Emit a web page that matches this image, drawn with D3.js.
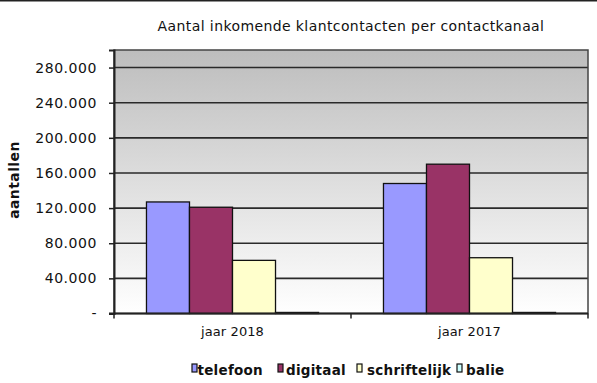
<!DOCTYPE html>
<html><head><meta charset="utf-8">
<script src="https://cdn.jsdelivr.net/npm/d3@7"></script>
<style>body{margin:0;background:#fff}svg{display:block}text{font-family:"DejaVu Sans",Verdana,sans-serif}</style>
</head><body><svg id="c" width="597" height="383"></svg>
<script>
const categories = ["jaar 2018", "jaar 2017"];
const seriesNames = ["telefoon", "digitaal", "schriftelijk", "balie"];
const seriesColors = ["#9999FF", "#993366", "#FFFFCC", "#CCFFFF"];
const telefoon = [127000, 148000];
const digitaal = [121000, 170000];
const schriftelijk = [60500, 63500];
const balie = [1200, 1200];
const yTicks = [0, 40000, 80000, 120000, 160000, 200000, 240000, 280000];
const yMax = 300000;

const values = [telefoon, digitaal, schriftelijk, balie];
const svg = d3.select("#c");
const m = {l:114, r:588, t:50, b:313.5};

// top frame line
svg.append("line").attr("x1",0).attr("x2",597).attr("y1",0.5).attr("y2",0.5).attr("stroke","#222").attr("stroke-width",2);

const defs = svg.append("defs");
const g = defs.append("linearGradient").attr("id","bg").attr("x1",0).attr("x2",0).attr("y1",0).attr("y2",1);
g.append("stop").attr("offset","0%").attr("stop-color","#bdbdbd");
g.append("stop").attr("offset","100%").attr("stop-color","#ffffff");

const x0 = d3.scaleBand().domain(categories).range([m.l, m.r]);
const x1 = d3.scaleBand().domain(seriesNames).range([0, x0.bandwidth()]).paddingOuter(0.755);
const y = d3.scaleLinear().domain([0, yMax]).range([m.b, m.t]);

svg.append("rect").attr("x",m.l).attr("y",m.t).attr("width",m.r-m.l).attr("height",m.b-m.t).attr("fill","url(#bg)");

// gridlines
svg.append("g").selectAll("line").data(yTicks.filter(d=>d>0)).join("line")
  .attr("x1",m.l).attr("x2",m.r).attr("y1",d=>y(d)).attr("y2",d=>y(d))
  .attr("stroke","#2a2a2a").attr("stroke-width",1.6);

// plot border
svg.append("rect").attr("x",m.l).attr("y",m.t).attr("width",m.r-m.l).attr("height",m.b-m.t)
  .attr("fill","none").attr("stroke","#444").attr("stroke-width",1.5);

// bars
const grp = svg.append("g").selectAll("g").data(categories).join("g")
  .attr("transform",d=>`translate(${x0(d)},0)`);
grp.selectAll("rect").data((c,ci)=>seriesNames.map((s,si)=>({s,si,v:values[si][ci]}))).join("rect")
  .attr("x",d=>x1(d.s)).attr("width",x1.bandwidth())
  .attr("y",d=>y(d.v)).attr("height",d=>y(0)-y(d.v))
  .attr("fill",d=>seriesColors[d.si]).attr("stroke","#111").attr("stroke-width",1.3);

// y axis
const yAxis = d3.axisLeft(y).tickValues(yTicks).tickSize(5).tickPadding(11)
  .tickFormat(d=> d===0 ? "-" : d3.format(",")(d).replace(/,/g,"."));
const ya = svg.append("g").attr("transform",`translate(${m.l},0)`).call(yAxis);
ya.select(".domain").attr("stroke","#222").attr("stroke-width",2);
ya.selectAll(".tick line").attr("stroke","#222").attr("stroke-width",1.5);
ya.selectAll(".tick text").attr("font-size",14).attr("letter-spacing","0.55px").attr("fill","#111").attr("dx","-1");

// x axis
const xa = svg.append("g").attr("transform",`translate(0,${m.b})`);
xa.append("line").attr("x1",m.l-5).attr("x2",m.r).attr("stroke","#222").attr("stroke-width",2);
const bounds = [m.l, m.l + x0.bandwidth(), m.r];
xa.selectAll("line.t").data(bounds).join("line").attr("class","t")
  .attr("x1",d=>d).attr("x2",d=>d).attr("y1",0).attr("y2",5).attr("stroke","#222").attr("stroke-width",1.5);
xa.selectAll("text").data(categories).join("text")
  .attr("x",d=>x0(d)+x0.bandwidth()/2).attr("y",22.5).attr("text-anchor","middle")
  .attr("font-size",13).attr("letter-spacing","0.1px").attr("fill","#111").text(d=>d);

// title
svg.append("text").attr("x",351).attr("y",31).attr("text-anchor","middle")
  .attr("font-size",14).attr("letter-spacing","0.4px").attr("fill","#111").text("Aantal inkomende klantcontacten per contactkanaal");

// y label
svg.append("text").attr("transform",`translate(19,180) rotate(-90)`).attr("text-anchor","middle")
  .attr("font-size",14).attr("letter-spacing","0.4px").attr("font-weight","bold").attr("fill","#111").text("aantallen");

// legend
const legX = [192, 278, 357, 457];
const legT = [197.5, 286, 367, 466];
const leg = svg.append("g").selectAll("g").data(seriesNames).join("g");
leg.append("rect").attr("x",(d,i)=>legX[i]).attr("y",364).attr("width",5).attr("height",8)
  .attr("fill",(d,i)=>seriesColors[i]).attr("stroke","#111").attr("stroke-width",1.2);
leg.append("text").attr("x",(d,i)=>legT[i]).attr("y",375).attr("font-size",13.5).attr("letter-spacing","0.25px").attr("font-weight","bold")
  .attr("fill","#111").text(d=>d);
</script></body></html>
